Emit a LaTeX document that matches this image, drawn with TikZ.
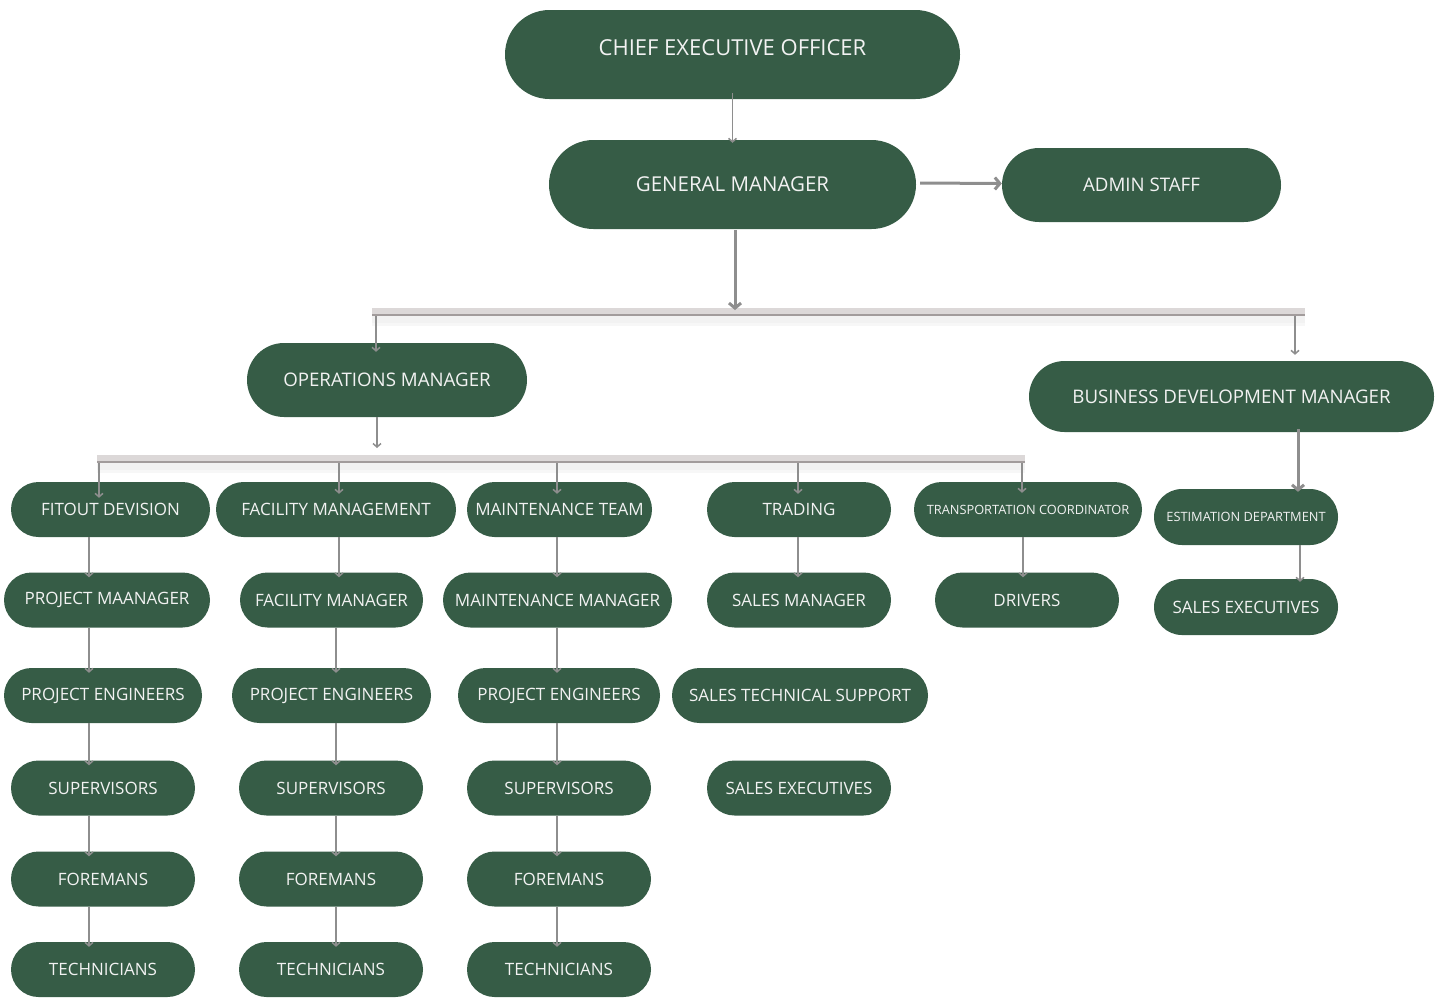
\documentclass[tikz,border=0pt]{standalone}
\usepackage{fontspec}
\setmainfont{Open Sans}
\usetikzlibrary{arrows.meta,shapes.misc,calc}
\definecolor{pillgreen}{HTML}{365C46}
\definecolor{conncol}{HTML}{8E8E8E}
\definecolor{txtcol}{HTML}{F2F2F2}
\definecolor{barlight}{HTML}{DCD8D8}
\definecolor{bardark}{HTML}{A29C9C}
\begin{document}
\begin{tikzpicture}[x=1pt,y=-1pt,
  pill/.style={rounded rectangle, fill=pillgreen, text=txtcol, inner sep=0pt, minimum height=55pt},
  fbig/.style={font=\fontsize{22}{25}\selectfont},
  fgm/.style={font=\fontsize{20.5}{24}\selectfont},
  fmid/.style={font=\fontsize{18.7}{22}\selectfont},
  fnorm/.style={font=\fontsize{17}{20}\selectfont},
  fsmall/.style={font=\fontsize{12.8}{15}\selectfont},
  conn/.style={draw=conncol, line width=1.5pt, -{Straight Barb[length=3.5pt,width=8pt,line width=1.5pt]}},
  connthick/.style={draw=conncol, line width=3pt, -{Straight Barb[length=5pt,width=12pt,line width=3pt]}}
]
\useasboundingbox (0,0) rectangle (1445,997);

% ---------- bars ----------
\fill[black!5] (372,316) rectangle (1305,323);
\fill[black!3] (372,323) rectangle (1305,326);
\fill[barlight] (372,308) rectangle (1305,315);
\draw[bardark, line width=1.6pt] (372,315) -- (1305,315);

\fill[black!5] (97,463) rectangle (1025,470);
\fill[black!3] (97,470) rectangle (1025,473);
\fill[barlight] (97,455) rectangle (1025,462);
\draw[bardark, line width=1.6pt] (97,462) -- (1025,462);

% ---------- top ----------
\node[pill, fbig, minimum width=455pt, minimum height=89pt, text depth=13pt] (ceo) at (732.5,54.5) {CHIEF EXECUTIVE OFFICER};
\node[pill, fgm, minimum width=367pt, minimum height=89pt] (gm) at (732.5,184.5) {GENERAL MANAGER};
\node[pill, fmid, minimum width=279pt, minimum height=74pt] (admin) at (1141.5,185) {ADMIN STAFF};
\node[pill, fmid, minimum width=280pt, minimum height=74pt] (ops) at (387,380) {OPERATIONS MANAGER};
\node[pill, fmid, minimum width=405pt, minimum height=71pt] (bdm) at (1231.5,396.5) {BUSINESS DEVELOPMENT MANAGER};

% ---------- row 1 ----------
\node[pill, fnorm, minimum width=199pt] (fit) at (110.5,509.5) {FITOUT DEVISION};
\node[pill, fnorm, minimum width=240pt] (fac) at (336,509.5) {FACILITY MANAGEMENT};
\node[pill, fnorm, minimum width=185pt] (mt) at (559.5,509.5) {MAINTENANCE TEAM};
\node[pill, fnorm, minimum width=184pt] (trd) at (799,509.5) {TRADING};
\node[pill, fsmall, minimum width=228pt] (tc) at (1028,509.5) {TRANSPORTATION COORDINATOR};
\node[pill, fsmall, minimum width=184pt, minimum height=56pt] (est) at (1246,517) {ESTIMATION DEPARTMENT};

% ---------- row 2 ----------
\node[pill, fnorm, minimum width=206pt] (pm) at (107,600) {PROJECT MAANAGER};
\node[pill, fnorm, minimum width=183pt] (fmg) at (331.5,600) {FACILITY MANAGER};
\node[pill, fnorm, minimum width=229pt] (mm) at (557.5,600) {MAINTENANCE MANAGER};
\node[pill, fnorm, minimum width=184pt] (sm) at (799,600) {SALES MANAGER};
\node[pill, fnorm, minimum width=184pt] (drv) at (1027,600) {DRIVERS};
\node[pill, fnorm, minimum width=184pt, minimum height=56pt] (se2) at (1246,607) {SALES EXECUTIVES};

% ---------- row 3 ----------
\node[pill, fnorm, minimum width=198pt] (pe1) at (103,695.5) {PROJECT ENGINEERS};
\node[pill, fnorm, minimum width=199pt] (pe2) at (331.5,695.5) {PROJECT ENGINEERS};
\node[pill, fnorm, minimum width=202pt] (pe3) at (559,695.5) {PROJECT ENGINEERS};
\node[pill, fnorm, minimum width=256pt] (sts) at (800,695.5) {SALES TECHNICAL SUPPORT};

% ---------- row 4 ----------
\node[pill, fnorm, minimum width=184pt] (sup1) at (103,788) {SUPERVISORS};
\node[pill, fnorm, minimum width=184pt] (sup2) at (331,788) {SUPERVISORS};
\node[pill, fnorm, minimum width=184pt] (sup3) at (559,788) {SUPERVISORS};
\node[pill, fnorm, minimum width=184pt] (se1) at (799,788) {SALES EXECUTIVES};

% ---------- row 5 ----------
\node[pill, fnorm, minimum width=184pt] (for1) at (103,879) {FOREMANS};
\node[pill, fnorm, minimum width=184pt] (for2) at (331,879) {FOREMANS};
\node[pill, fnorm, minimum width=184pt] (for3) at (559,879) {FOREMANS};

% ---------- row 6 ----------
\node[pill, fnorm, minimum width=184pt] (tec1) at (103,969.5) {TECHNICIANS};
\node[pill, fnorm, minimum width=184pt] (tec2) at (331,969.5) {TECHNICIANS};
\node[pill, fnorm, minimum width=184pt] (tec3) at (559,969.5) {TECHNICIANS};

% ---------- connector anchors ----------
\coordinate (b1gm) at (735,310);
\coordinate (b1ops) at (376,316);
\coordinate (b1bdm) at (1295,316);
\coordinate (b2ops) at (377,448);
\coordinate (b2a) at (99,463);
\coordinate (b2b) at (339,463);
\coordinate (b2c) at (557,463);
\coordinate (b2d) at (798,463);
\coordinate (b2e) at (1022,463);
\coordinate (cA) at (89,0);
\coordinate (cB) at (336,0);
\coordinate (cBa) at (339,0);
\coordinate (cC) at (557,0);
\coordinate (cD) at (798,0);
\coordinate (cE) at (1023,0);
\coordinate (cF) at (1300,0);
\coordinate (cG) at (1298,0);

% ---------- connectors ----------
\draw[conn] ($(ceo.south)+(0,-6)$) -- ($(gm.north)+(0,3)$);
\draw[connthick] ($(gm.east)+(4,-1.5)$) -- ($(admin.west)+(0,-1.5)$);
\draw[connthick] ($(gm.south)+(2.5,1)$) -- (b1gm);
\draw[conn] (b1ops) -- ($(ops.north -| b1ops)+(0,9)$);
\draw[conn] (b1bdm) -- ($(bdm.north -| b1bdm)+(0,-6)$);
\draw[conn] (ops.south -| b2ops) -- (b2ops);
\draw[conn] (b2a) -- ($(fit.north -| b2a)+(0,16)$);
\draw[conn] (b2b) -- ($(fac.north -| b2b)+(0,12)$);
\draw[conn] (b2c) -- ($(mt.north -| b2c)+(0,12)$);
\draw[conn] (b2d) -- ($(trd.north -| b2d)+(0,12)$);
\draw[conn] (b2e) -- ($(tc.north -| b2e)+(0,11)$);
\draw[connthick] ($(bdm.south -| cG)+(0,-3)$) -- ($(est.north -| cG)+(0,3)$);

% column 1
\draw[conn] (fit.south -| cA) -- ($(pm.north -| cA)+(0,5)$);
\draw[conn] (pm.south -| cA) -- ($(pe1.north -| cA)+(0,5)$);
\draw[conn] (pe1.south -| cA) -- ($(sup1.north -| cA)+(0,5)$);
\draw[conn] (sup1.south -| cA) -- ($(for1.north -| cA)+(0,5)$);
\draw[conn] (for1.south -| cA) -- ($(tec1.north -| cA)+(0,5)$);
% column 2
\draw[conn] (fac.south -| cBa) -- ($(fmg.north -| cBa)+(0,5)$);
\draw[conn] (fmg.south -| cB) -- ($(pe2.north -| cB)+(0,5)$);
\draw[conn] (pe2.south -| cB) -- ($(sup2.north -| cB)+(0,5)$);
\draw[conn] (sup2.south -| cB) -- ($(for2.north -| cB)+(0,5)$);
\draw[conn] (for2.south -| cB) -- ($(tec2.north -| cB)+(0,5)$);
% column 3
\draw[conn] (mt.south -| cC) -- ($(mm.north -| cC)+(0,5)$);
\draw[conn] (mm.south -| cC) -- ($(pe3.north -| cC)+(0,5)$);
\draw[conn] (pe3.south -| cC) -- ($(sup3.north -| cC)+(0,5)$);
\draw[conn] (sup3.south -| cC) -- ($(for3.north -| cC)+(0,5)$);
\draw[conn] (for3.south -| cC) -- ($(tec3.north -| cC)+(0,5)$);
% trading, transport, estimation
\draw[conn] (trd.south -| cD) -- ($(sm.north -| cD)+(0,5)$);
\draw[conn] (tc.south -| cE) -- ($(drv.north -| cE)+(0,5)$);
\draw[conn] (est.south -| cF) -- ($(se2.north -| cF)+(0,3)$);
\end{tikzpicture}
\end{document}
